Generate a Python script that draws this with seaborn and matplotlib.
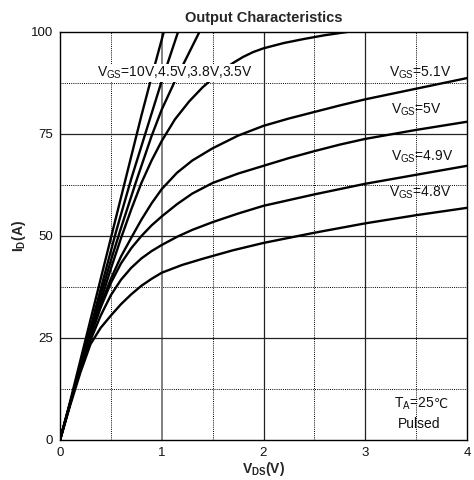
import matplotlib
matplotlib.use("Agg")
import matplotlib.pyplot as plt
import seaborn as sns
import pandas as pd

# ---- data ----
x_10v = [0, 0.1, 0.2, 0.3, 0.4, 0.5, 0.6, 0.7, 0.8, 0.9, 1.02]
y_10v = [0, 9.5, 19.5, 29.5, 39.5, 49.5, 59.5, 69.5, 79.5, 89, 100]

x_45v = [0, 0.1, 0.2, 0.3, 0.4, 0.55, 0.7, 0.85, 1.0, 1.16]
y_45v = [0, 9, 18.5, 27.5, 37, 51, 64, 76, 88, 100]

x_38v = [0, 0.1, 0.2, 0.3, 0.4, 0.5, 0.6, 0.75, 0.9, 1.0, 1.13, 1.25, 1.37]
y_38v = [0, 9, 18, 27, 35.5, 44, 52, 63.5, 74.5, 81, 88, 94, 100]

x_35v = [0, 0.1, 0.2, 0.3, 0.4, 0.5, 0.6, 0.7, 0.8, 0.9, 1.0, 1.13, 1.27, 1.4, 1.5, 1.6,
         1.7, 1.8, 1.9, 2.0, 2.2, 2.4, 2.6, 2.82, 3.0]
y_35v = [0, 9, 17.5, 26, 34, 42, 49.5, 56.5, 63, 68.5, 73.3, 78.6, 83, 86.4, 88.6, 90.6,
         92.4, 93.9, 95.1, 96.0, 97.3, 98.3, 99.2, 100, 100.6]

x_51v = [0, 0.1, 0.2, 0.3, 0.4, 0.5, 0.6, 0.71, 0.8, 0.9, 1.0, 1.15, 1.3, 1.5, 1.75, 2.0,
         2.25, 2.5, 2.75, 3.0, 3.25, 3.5, 3.75, 4.0]
y_51v = [0, 9, 17.5, 25.5, 33, 39.5, 45, 50, 54, 58, 61.5, 65.5, 68.5, 71.5, 74.6, 77,
         78.8, 80.4, 82, 83.5, 84.8, 86.1, 87.4, 88.7]

x_50v = [0, 0.1, 0.2, 0.3, 0.4, 0.5, 0.6, 0.7, 0.8, 0.9, 1.0, 1.15, 1.3, 1.5, 1.75, 2.0,
         2.25, 2.5, 2.75, 3.0, 3.5, 4.0]
y_50v = [0, 9, 17.5, 25.5, 32.5, 38.5, 43.3, 47, 50, 52.6, 54.8, 57.8, 60.4, 63, 65.3, 67.2,
         69.1, 70.8, 72.4, 73.8, 76, 78]

x_49v = [0, 0.1, 0.2, 0.3, 0.4, 0.5, 0.6, 0.7, 0.8, 0.9, 1.0, 1.15, 1.3, 1.5, 1.75, 2.0,
         2.5, 3.0, 3.5, 4.0]
y_49v = [0, 9, 17.5, 24.5, 30.5, 35.5, 39.3, 42.2, 44.5, 46.3, 47.8, 49.8, 51.5, 53.4, 55.5, 57.4,
         60.2, 62.8, 65, 67.2]

x_48v = [0, 0.1, 0.2, 0.3, 0.4, 0.5, 0.6, 0.7, 0.8, 0.9, 1.0, 1.2, 1.4, 1.7, 2.0, 2.5,
         3.0, 3.5, 4.0]
y_48v = [0, 8.5, 16.5, 23.5, 27.5, 30.5, 33.3, 35.7, 37.8, 39.5, 41, 42.9, 44.4, 46.5, 48.3, 50.8,
         53.1, 55.1, 56.9]

curve_names = ["10V", "4.5V", "3.8V", "3.5V", "5.1V", "5V", "4.9V", "4.8V"]
curve_x = [x_10v, x_45v, x_38v, x_35v, x_51v, x_50v, x_49v, x_48v]
curve_y = [y_10v, y_45v, y_38v, y_35v, y_51v, y_50v, y_49v, y_48v]

x_ticks = [0, 1, 2, 3, 4]
y_ticks = [0, 25, 50, 75, 100]
x_minor = [0.5, 1.5, 2.5, 3.5]
y_minor = [12.5, 37.5, 62.5, 87.5]

rows = []
for name, xs, ys in zip(curve_names, curve_x, curve_y):
    for xv, yv in zip(xs, ys):
        rows.append({"vgs": name, "vds": xv, "id": yv})
df = pd.DataFrame(rows)

sns.set_theme(style="white")
plt.rcParams["font.family"] = ["Liberation Sans", "DejaVu Sans"]
plt.rcParams["mathtext.fontset"] = "custom"
plt.rcParams["mathtext.rm"] = "Liberation Sans"
plt.rcParams["mathtext.it"] = "Liberation Sans:italic"
plt.rcParams["mathtext.bf"] = "Liberation Sans:bold"

fig = plt.figure(figsize=(4.74, 4.80), dpi=100)
ax = fig.add_axes([60 / 474, 1 - 440 / 480, 407 / 474, 408 / 480])

# grid
for xv in x_minor:
    ax.axvline(xv, color="black", lw=0.7, ls=(0, (1, 1.2)), zorder=1)
for yv in y_minor:
    ax.axhline(yv, color="black", lw=0.7, ls=(0, (1, 1.2)), zorder=1)
for xv in x_ticks[1:-1]:
    ax.axvline(xv, color="#808080" if xv == 1 else "#222222",
               lw=1.4 if xv == 1 else 0.9, zorder=1)
for yv in y_ticks[1:-1]:
    ax.axhline(yv, color="#222222", lw=0.9, zorder=1)

sns.lineplot(data=df, x="vds", y="id", units="vgs", estimator=None, sort=False,
             color="black", lw=1.7, ax=ax, zorder=3)

ax.set_xlim(0, 4)
ax.set_ylim(0, 100)
ax.set_xticks(x_ticks)
ax.set_yticks(y_ticks)
ax.tick_params(axis="both", length=0, labelsize=9.5, colors="#111111", pad=5)
for s in ax.spines.values():
    s.set_color("black")
    s.set_linewidth(1.0)
    s.set_zorder(5)

ax.set_title("Output Characteristics", fontsize=10.5, fontweight="bold", pad=7)
ax.set_xlabel(r"$\mathbf{V_{DS}(V)}$", fontsize=10, labelpad=1)
ax.set_ylabel(r"$\mathbf{I_{D}(A)}$", fontsize=10, labelpad=2)

lab_kw = dict(fontsize=10, color="#111111", zorder=4)
ax.text(0.36, 90, r"V$_{\mathrm{GS}}$=10V,4.5V,3.8V,3.5V", ha="left", va="center",
        bbox=dict(facecolor="white", edgecolor="none", pad=0.5), **lab_kw)
ax.text(3.23, 90, r"V$_{\mathrm{GS}}$=5.1V", ha="left", va="center", **lab_kw)
ax.text(3.25, 80.9, r"V$_{\mathrm{GS}}$=5V", ha="left", va="center", **lab_kw)
ax.text(3.25, 69.4, r"V$_{\mathrm{GS}}$=4.9V", ha="left", va="center", **lab_kw)
ax.text(3.23, 60.5, r"V$_{\mathrm{GS}}$=4.8V", ha="left", va="center", **lab_kw)
t_a = ax.text(3.28, 8.8, r"T$_{\mathrm{A}}$=25", ha="left", va="center", **lab_kw)
ax.annotate("℃", xy=(1, 0.5), xycoords=t_a, ha="left", va="center",
            fontsize=9, color="#111111", family="DejaVu Sans", zorder=4)
ax.text(3.53, 3.9, "Pulsed", ha="center", va="center", **lab_kw)

fig.savefig("out.png", dpi=100)
